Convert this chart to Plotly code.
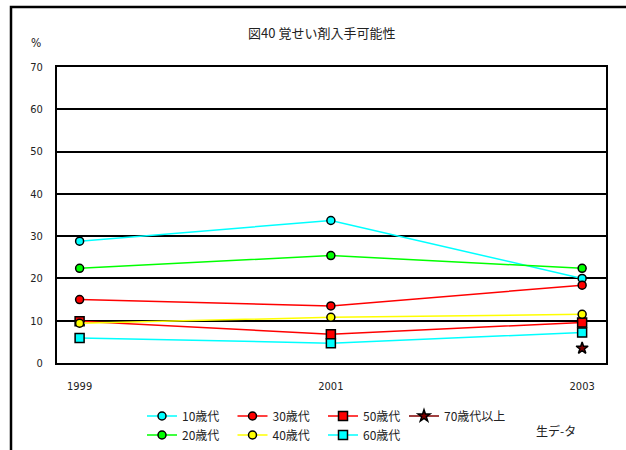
import plotly.graph_objects as go

years = [1999, 2001, 2003]

# 年代別の値 (%)
teens = [28.8, 33.7, 20.0]
twenties = [22.4, 25.4, 22.4]
thirties = [15.0, 13.5, 18.4]
forties = [9.4, 10.8, 11.5]
fifties = [9.9, 6.8, 9.6]
sixties = [5.9, 4.7, 7.2]
seventies = [None, None, 3.5]

y_ticks = [0, 10, 20, 30, 40, 50, 60, 70]

JP = "Noto Sans CJK JP"
NARROW = "Liberation Sans Narrow, DejaVu Sans Condensed, Roboto Condensed, Liberation Sans, sans-serif"

# 凡例: 1段目と2段目を別々の凡例にする (70歳代以上は幅が要るので別)
series = [
    ("10歳代", teens, "#00FFFF", "circle", "legend"),
    ("30歳代", thirties, "#FF0000", "circle", "legend"),
    ("50歳代", fifties, "#FF0000", "square", "legend"),
    ("70歳代以上", seventies, "#800000", "star", "legend3"),
    ("20歳代", twenties, "#00FF00", "circle", "legend2"),
    ("40歳代", forties, "#FFFF00", "circle", "legend2"),
    ("60歳代", sixties, "#00FFFF", "square", "legend2"),
]

fig = go.Figure()
for name, vals, col, sym, lg in series:
    fig.add_trace(go.Scatter(
        x=years, y=vals, name=name, mode="lines+markers", legend=lg,
        line=dict(color=col, width=1.5),
        marker=dict(symbol=sym, color=col, size=9 if sym != "circle" else 8,
                    line=dict(color="black", width=1.5)),
    ))

legend_style = dict(orientation="h", xanchor="left", yanchor="middle",
                    entrywidth=45.5, entrywidthmode="pixels", itemwidth=30,
                    font=dict(family=JP, size=12, color="#222"),
                    bgcolor="rgba(0,0,0,0)")

# 外枠 (左と上の線) の位置 (紙座標)
fx = (11 - 57) / 549
fy = (363 - 7) / 296
fr = (626 - 57) / 549
fb = (363 - 452) / 296

fig.update_layout(
    width=626, height=450,
    paper_bgcolor="white", plot_bgcolor="white",
    margin=dict(l=57, r=20, t=67, b=87, autoexpand=False),
    font=dict(family=NARROW, size=11, color="#222"),
    title=dict(text="図40 覚せい剤入手可能性", x=0.514, xanchor="center",
               y=1 - 33 / 450, yanchor="middle",
               font=dict(family=JP, size=13, color="#222")),
    showlegend=True,
    legend=dict(x=(142 - 57) / 549, y=(363 - 416) / 296, **legend_style),
    legend2=dict(x=(142 - 57) / 549, y=(363 - 435) / 296, **legend_style),
    legend3=dict(x=(404 - 57) / 549, y=(363 - 416) / 296,
                 **{**legend_style, "entrywidth": 80}),
    xaxis=dict(range=[1998.82, 2003.19], tickvals=years, ticktext=[str(y) for y in years],
               showgrid=False, zeroline=False, showline=True, linecolor="black",
               linewidth=2, mirror=True, ticks="", ticklabelstandoff=12,
               tickfont=dict(family=NARROW, size=11)),
    yaxis=dict(range=[0, 70], tickvals=y_ticks, showgrid=True, gridcolor="black",
               gridwidth=2, zeroline=False, showline=True, linecolor="black",
               linewidth=2, mirror=True, ticks="", ticklabelstandoff=10,
               tickfont=dict(family=NARROW, size=11)),
    annotations=[
        dict(text="%", x=(36 - 57) / 549, y=(363 - 43) / 296, xref="paper", yref="paper",
             xanchor="center", yanchor="middle", showarrow=False,
             font=dict(family=NARROW, size=12)),
        dict(text="生デ-タ", x=(556 - 57) / 549, y=(363 - 430) / 296,
             xref="paper", yref="paper", xanchor="center", yanchor="middle",
             showarrow=False, font=dict(family=JP, size=12)),
    ],
    shapes=[
        dict(type="path", xref="paper", yref="paper",
             path=f"M {fx},{fb} L {fx},{fy} L {fr},{fy}",
             line=dict(color="black", width=2.5)),
    ],
)

# ページの余白を消して 626x450 にそのまま合わせる
fig.write_html("out.html", config={"displayModeBar": False},
               post_script="document.body.style.margin='0';")
